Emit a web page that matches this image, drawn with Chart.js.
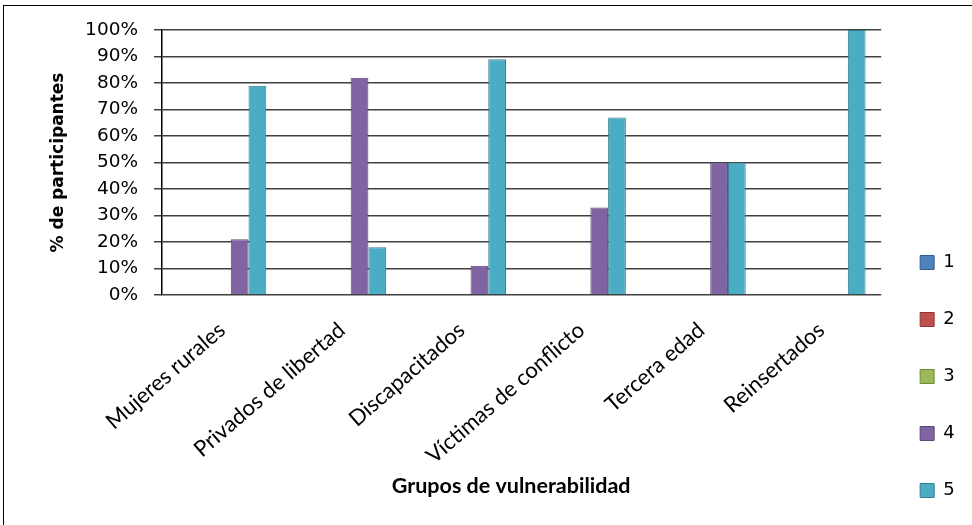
<!DOCTYPE html>
<html>
<head>
<meta charset="utf-8">
<script src="https://cdn.jsdelivr.net/npm/chart.js@4"></script>
<style>
  html, body { margin: 0; padding: 0; background: #fff; overflow: hidden; width: 972px; height: 525px; }
  #wrap { position: absolute; left: 0; top: 0; width: 972px; height: 545px; }
  #frame { position: absolute; left: 3px; top: 5px; width: 1100px; height: 700px; border: 1px solid #000; box-sizing: border-box; pointer-events: none; }
</style>
</head>
<body>
<div id="wrap"><canvas id="c" width="972" height="545"></canvas></div>
<div id="frame"></div>
<script>
const categories = ['Mujeres rurales', 'Privados de libertad', 'Discapacitados', 'Víctimas de conflicto', 'Tercera edad', 'Reinsertados'];
const seriesNames = ['1', '2', '3', '4', '5'];
const series1 = [0, 0, 0, 0, 0, 0];
const series2 = [0, 0, 0, 0, 0, 0];
const series3 = [0, 0, 0, 0, 0, 0];
const series4 = [21, 82, 11, 33, 50, 0];
const series5 = [79, 18, 89, 67, 50, 100];
const yTicks = [0, 10, 20, 30, 40, 50, 60, 70, 80, 90, 100];

const fills = ['#4F81BD', '#C0504D', '#9BBB59', '#8064A2', '#4BACC6'];
const borders = ['#385D8A', '#8C3836', '#71893F', '#5C4776', '#357D91'];
const allSeries = [series1, series2, series3, series4, series5];

const datasets = allSeries.map((d, i) => ({
  label: seriesNames[i],
  data: d,
  backgroundColor: fills[i],
  borderColor: borders[i],
  borderWidth: 1,
  borderSkipped: 'start',
  barPercentage: 1,
  categoryPercentage: 0.74
}));

new Chart(document.getElementById('c'), {
  type: 'bar',
  data: { labels: categories, datasets },
  options: {
    responsive: false,
    devicePixelRatio: 1,
    animation: false,
    layout: { padding: { left: 10, top: 30, right: 7.4, bottom: 6.5 } },
    plugins: {
      tooltip: { enabled: false },
      legend: {
        position: 'right',
        align: 'end',
        labels: {
          boxWidth: 14,
          boxHeight: 14,
          padding: 39,
          color: '#000',
          font: { family: 'DejaVu Sans', size: 18 }
        }
      }
    },
    scales: {
      x: {
        grid: { display: false, drawTicks: true, tickLength: 8 },
        border: { display: false },
        ticks: {
          color: '#000',
          maxRotation: 41,
          minRotation: 41,
          padding: 14,
          font: { family: 'Lato', size: 22 }
        },
        title: {
          display: true,
          text: 'Grupos de vulnerabilidad\u00a0\u00a0\u00a0\u00a0',
          color: '#000',
          font: { family: 'Lato', size: 21.5, weight: 'bold' },
          padding: { top: 0, bottom: 40 }
        },
        afterFit: (s) => { s.height = 243.5; }
      },
      y: {
        min: 0,
        max: 100,
        afterBuildTicks: (s) => { s.ticks = yTicks.map(v => ({ value: v })); },
        grid: { color: '#404040', lineWidth: 1.5, tickLength: 8, drawTicks: true },
        border: { display: true, color: '#000', width: 1.5 },
        ticks: {
          color: '#000',
          padding: 16,
          font: { family: 'DejaVu Sans', size: 18.5 },
          callback: (v) => v + '%'
        },
        title: {
          display: true,
          text: '% de participantes',
          color: '#000',
          font: { family: 'DejaVu Sans', size: 17, weight: 'bold' },
          padding: { top: 38, bottom: 0 }
        },
        afterFit: (s) => { s.width = 152; }
      }
    }
  }
});
</script>
</body>
</html>
